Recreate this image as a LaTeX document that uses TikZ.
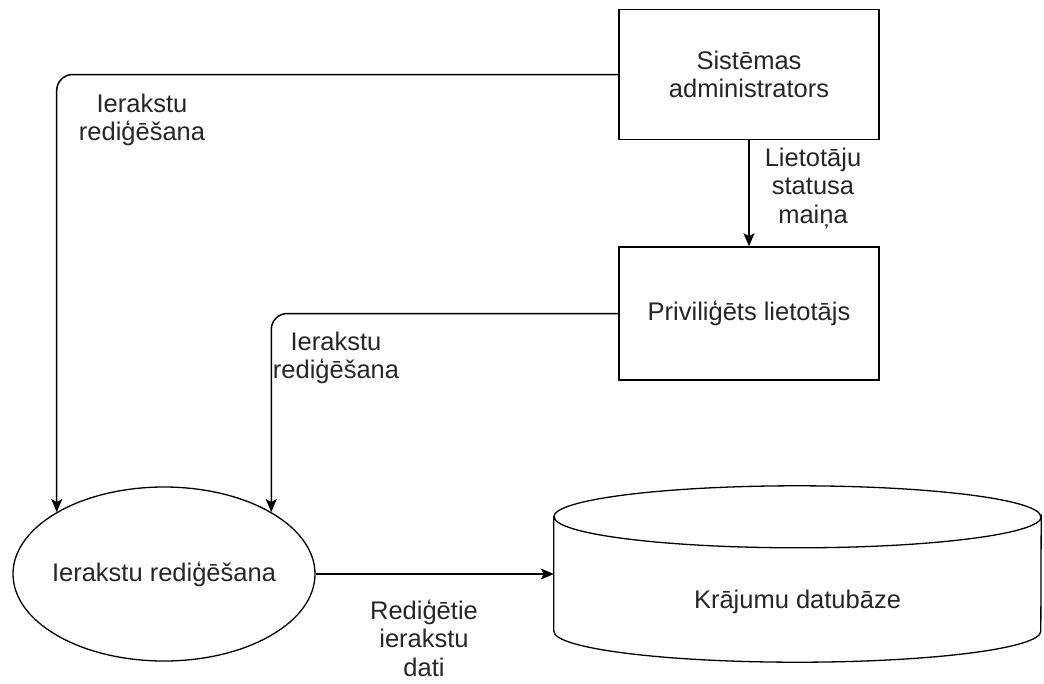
\documentclass[tikz,border=0pt]{standalone}
\usepackage{fontspec}
\setmainfont{Liberation Sans}
\usetikzlibrary{arrows.meta,shapes.geometric}
\definecolor{txt}{HTML}{262626}
\tikzset{
  every node/.style={font=\fontsize{25.5}{28.5}\selectfont, text=txt, inner sep=0pt},
  boxnode/.style={draw=black, line width=1.5pt, fill=white, minimum width=260pt, minimum height=130pt, align=center},
  procnode/.style={draw=black, line width=1.3pt, ellipse, minimum width=302pt, minimum height=174pt},
  lbl/.style={align=center},
  flow/.style={draw=black, line width=1.5pt, rounded corners=16pt, -{Stealth[length=13pt,width=11pt,inset=3pt]}},
  dbline/.style={draw=black, line width=1.3pt}
}
\begin{document}
\begin{tikzpicture}[x=1pt,y=-1pt]
\useasboundingbox (0,0) rectangle (1044,683);
% nodes
\node[boxnode] (adm) at (749,74.5) {Sistēmas\\administrators};
\node[boxnode, minimum height=133pt] (priv) at (749,313.5) {Priviliģēts lietotājs};
\node[procnode] (proc) at (164,574) {};
\node (proctext) at (164,574) {Ierakstu rediģēšana};
% cylinder
\node[minimum width=487pt, minimum height=114pt] (db) at (797.5,574) {};
\path[dbline, fill=white] (db.north west) -- (db.south west)
   arc[start angle=180, end angle=360, x radius=243.5pt, y radius=31pt]
   -- (db.north east)
   arc[start angle=0, end angle=-180, x radius=243.5pt, y radius=31pt] -- cycle;
\path[dbline] (db.north west)
   arc[start angle=180, end angle=0, x radius=243.5pt, y radius=31pt];
\node (dbtext) at (797.5,602) {Krājumu datubāze};
% labels
\node[lbl] (l1) at (142,120) {Ierakstu\\rediģēšana};
\node[lbl] (l2) at (336,358) {Ierakstu\\rediģēšana};
\node[lbl] (l3) at (813,188) {Lietotāju\\statusa\\maiņa};
\node[lbl] (l4) at (424,638) {Rediģētie\\ierakstu\\dati};
% connectors
\draw[flow] (adm.west) -| (proc.150);
\draw[flow] (priv.west) -| (proc.30);
\draw[flow] (adm.south) -- (priv.north);
\draw[flow] (proc.east) -- (db.west);
\end{tikzpicture}
\end{document}
